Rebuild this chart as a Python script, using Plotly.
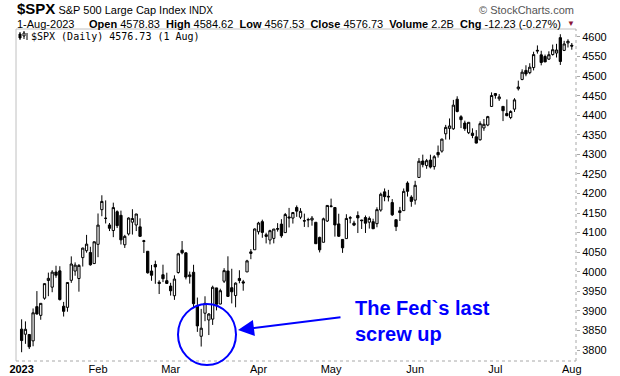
import plotly.graph_objects as go

# ---------------- data ----------------
dates = [
    "2023-01-03","2023-01-04","2023-01-05","2023-01-06","2023-01-09","2023-01-10","2023-01-11","2023-01-12","2023-01-13",
    "2023-01-17","2023-01-18","2023-01-19","2023-01-20","2023-01-23","2023-01-24","2023-01-25","2023-01-26","2023-01-27",
    "2023-01-30","2023-01-31",
    "2023-02-01","2023-02-02","2023-02-03","2023-02-06","2023-02-07","2023-02-08","2023-02-09","2023-02-10","2023-02-13",
    "2023-02-14","2023-02-15","2023-02-16","2023-02-17","2023-02-21","2023-02-22","2023-02-23","2023-02-24","2023-02-27",
    "2023-02-28",
    "2023-03-01","2023-03-02","2023-03-03","2023-03-06","2023-03-07","2023-03-08","2023-03-09","2023-03-10","2023-03-13",
    "2023-03-14","2023-03-15","2023-03-16","2023-03-17","2023-03-20","2023-03-21","2023-03-22","2023-03-23","2023-03-24",
    "2023-03-27","2023-03-28","2023-03-29","2023-03-30","2023-03-31",
    "2023-04-03","2023-04-04","2023-04-05","2023-04-06","2023-04-10","2023-04-11","2023-04-12","2023-04-13","2023-04-14",
    "2023-04-17","2023-04-18","2023-04-19","2023-04-20","2023-04-21","2023-04-24","2023-04-25","2023-04-26","2023-04-27",
    "2023-04-28",
    "2023-05-01","2023-05-02","2023-05-03","2023-05-04","2023-05-05","2023-05-08","2023-05-09","2023-05-10","2023-05-11",
    "2023-05-12","2023-05-15","2023-05-16","2023-05-17","2023-05-18","2023-05-19","2023-05-22","2023-05-23","2023-05-24",
    "2023-05-25","2023-05-26","2023-05-30","2023-05-31",
    "2023-06-01","2023-06-02","2023-06-05","2023-06-06","2023-06-07","2023-06-08","2023-06-09","2023-06-12","2023-06-13",
    "2023-06-14","2023-06-15","2023-06-16","2023-06-20","2023-06-21","2023-06-22","2023-06-23","2023-06-26","2023-06-27",
    "2023-06-28","2023-06-29","2023-06-30",
    "2023-07-03","2023-07-05","2023-07-06","2023-07-07","2023-07-10","2023-07-11","2023-07-12","2023-07-13","2023-07-14",
    "2023-07-17","2023-07-18","2023-07-19","2023-07-20","2023-07-21","2023-07-24","2023-07-25","2023-07-26","2023-07-27",
    "2023-07-28","2023-07-31",
    "2023-08-01",
]

opens = [
    3853.29,3840.36,3839.74,3823.37,3910.82,3888.57,3932.35,3977.57,3960.60,3999.28,4002.25,3911.84,3909.04,3978.14,4001.74,
    3982.71,4036.08,4053.72,4049.27,4020.85,
    4070.07,4158.68,4136.69,4119.57,4105.35,4153.47,4144.25,4068.92,4096.62,4126.70,4119.50,4114.75,4077.39,4052.35,4001.83,
    4018.60,3973.24,3992.36,3977.19,
    3963.34,3938.68,3998.02,4055.15,4048.26,3987.55,3998.66,3912.77,3835.12,3894.01,3876.74,3878.93,3958.69,3917.47,3975.89,
    4002.04,3959.21,3939.21,3982.93,3974.13,3999.53,4046.74,4056.18,
    4102.20,4128.03,4094.50,4081.15,4085.20,4110.29,4121.72,4100.04,4140.11,4137.17,4164.26,4139.33,4130.48,4132.14,4132.07,
    4126.43,4087.78,4075.29,4129.63,
    4166.79,4164.10,4122.25,4082.61,4084.73,4136.98,4124.25,4143.74,4132.24,4138.54,4126.65,4127.95,4122.85,4157.68,4204.15,
    4190.78,4176.80,4132.96,4155.71,4156.16,4226.71,4190.74,
    4183.03,4241.01,4282.99,4271.34,4285.47,4268.69,4304.88,4308.32,4352.61,4366.29,4365.33,4440.95,4396.11,4380.01,4355.40,
    4354.17,4344.84,4337.36,4367.48,4374.94,4422.44,
    4450.48,4442.04,4422.62,4404.54,4394.23,4415.55,4467.69,4491.50,4514.61,4508.86,4521.78,4563.87,4554.38,4550.16,4543.39,
    4555.19,4558.96,4598.26,4565.75,4584.82,
    4578.83,
]

highs = [
    3878.46,3873.16,3839.74,3906.19,3950.57,3919.83,3970.07,3997.76,4003.95,4015.39,4014.16,3922.94,3972.96,4039.31,4023.92,
    4019.55,4061.57,4094.21,4063.85,4077.16,
    4148.95,4195.44,4182.36,4124.63,4176.54,4156.85,4156.23,4094.36,4138.90,4159.77,4148.11,4136.54,4081.51,4052.35,4017.37,
    4028.30,3978.25,4018.05,3997.50,
    3971.73,3990.84,4048.29,4078.49,4050.00,4000.41,4017.81,3934.05,3905.05,3937.29,3894.26,3964.46,3958.91,3956.62,4009.08,
    4039.49,4007.66,3972.74,4003.83,3979.20,4030.59,4057.85,4110.75,
    4127.66,4133.13,4099.69,4107.32,4109.50,4124.26,4134.37,4150.26,4163.19,4151.72,4169.48,4162.57,4148.57,4138.02,4142.41,
    4126.43,4089.67,4138.24,4170.06,
    4186.92,4164.10,4148.30,4082.61,4147.02,4142.30,4130.35,4154.28,4132.80,4143.74,4141.25,4135.54,4164.67,4202.20,4212.91,
    4209.22,4185.68,4132.96,4165.74,4212.87,4231.10,4195.44,
    4232.43,4290.67,4299.28,4288.33,4299.19,4298.01,4322.62,4340.13,4375.37,4391.82,4439.20,4448.47,4400.15,4386.22,4382.25,
    4366.55,4362.06,4384.42,4390.35,4398.39,4458.48,
    4456.46,4454.06,4422.62,4440.39,4412.60,4443.64,4488.34,4517.38,4527.76,4532.85,4562.30,4578.43,4564.74,4555.00,4563.41,
    4580.62,4582.47,4607.07,4590.16,4594.22,
    4584.62,
]

lows = [
    3794.33,3815.77,3802.42,3809.56,3890.42,3877.29,3928.54,3937.56,3947.67,3984.57,3926.59,3885.54,3897.86,3971.64,3989.79,
    3949.06,4013.29,4048.70,4015.55,4020.44,
    4037.20,4141.88,4123.36,4103.98,4088.39,4111.67,4069.67,4060.79,4092.67,4095.01,4103.98,4089.49,4047.95,3995.19,3976.90,
    3969.19,3943.08,3973.55,3968.98,
    3939.05,3928.16,3995.17,4044.61,3980.31,3969.76,3908.70,3846.32,3808.86,3873.63,3838.24,3864.11,3901.27,3916.89,3971.19,
    3936.17,3919.05,3909.16,3970.49,3951.53,3999.53,4032.10,4056.18,
    4095.31,4086.87,4072.56,4069.84,4072.55,4102.61,4086.94,4099.40,4113.20,4123.18,4140.36,4134.49,4114.57,4113.86,4117.77,
    4071.38,4049.35,4075.29,4127.18,
    4164.12,4089.72,4088.86,4048.28,4084.73,4123.81,4116.65,4098.92,4109.29,4099.12,4110.27,4109.86,4113.62,4153.50,4180.20,
    4179.68,4142.54,4103.98,4129.73,4156.16,4192.18,4166.15,
    4171.64,4241.01,4266.82,4263.09,4263.96,4261.07,4291.70,4304.37,4337.85,4337.85,4362.60,4407.44,4367.19,4360.14,4351.82,
    4341.34,4328.08,4335.00,4360.22,4371.97,4422.44,
    4442.29,4436.61,4385.05,4397.40,4389.92,4408.46,4463.23,4489.36,4499.56,4504.90,4514.59,4557.48,4527.56,4535.79,4541.29,
    4552.42,4547.58,4528.56,4564.01,4573.14,
    4567.53,
]

closes = [
    3824.14,3852.97,3808.10,3895.08,3892.09,3919.25,3969.61,3983.17,3999.09,3990.97,3928.86,3898.85,3972.61,4019.81,4016.95,
    4016.22,4060.43,4070.56,4017.77,4076.60,
    4119.21,4179.76,4136.48,4111.08,4164.00,4117.86,4081.50,4090.46,4137.29,4136.13,4147.60,4090.41,4079.09,3997.34,3991.05,
    4012.32,3970.04,3982.24,3970.15,
    3951.39,3981.35,4045.64,4048.42,3986.37,3992.01,3918.32,3861.59,3855.76,3919.29,3891.93,3960.28,3916.64,3951.57,4002.87,
    3936.97,3948.72,3970.99,3977.53,3971.27,4027.81,4050.83,4109.31,
    4124.51,4100.60,4090.38,4105.02,4109.11,4108.94,4091.95,4146.22,4137.64,4151.32,4154.87,4154.52,4129.79,4133.52,4137.04,
    4071.63,4055.99,4135.35,4169.48,
    4167.87,4119.58,4090.75,4061.22,4136.25,4138.12,4119.17,4137.64,4130.62,4124.08,4136.28,4109.90,4158.77,4198.05,4191.98,
    4192.63,4145.58,4115.24,4151.28,4205.45,4205.52,4179.83,
    4221.02,4282.37,4273.79,4283.85,4267.52,4293.93,4298.86,4338.93,4369.01,4372.59,4425.84,4409.59,4388.71,4365.69,4381.89,
    4348.33,4328.82,4378.41,4376.86,4396.44,4450.38,
    4455.59,4446.82,4411.59,4398.95,4409.53,4439.26,4472.16,4510.04,4505.42,4522.79,4554.98,4565.72,4534.87,4536.34,4554.64,
    4567.46,4566.75,4537.41,4582.23,4588.96,
    4576.73,
]

month_ticks = ["2023-01-03","2023-02-01","2023-03-01","2023-04-03","2023-05-01","2023-06-01","2023-07-03","2023-08-01"]
month_labels = ["<b>2023</b>","Feb","Mar","Apr","May","Jun","Jul","Aug"]
price_ticks = list(range(3800, 4601, 50))

header_title = ("<b>$SPX</b><span style='font-size:11px'> S&P 500 Large Cap Index </span>"
                "<span style='font-size:10px'>INDX</span>")
header_quote = ("<b>Open</b> 4578.83  <b>High</b> 4584.62  <b>Low</b> 4567.53  <b>Close</b> 4576.73  "
                "<b>Volume</b> 2.2B  <b>Chg</b> -12.23 (-0.27%) ")
legend_text = "$SPX (Daily) 4576.73 (1 Aug)"
note_text = "<b>The Fed`s last</b><br><b>screw up</b>"

# ---------------- layout helpers ----------------
W, H = 620, 376
L, R, T, B = 16, 44, 29, 15
PW, PH = W - L - R, H - T - B


def px(x):
    return (x - L) / PW


def py(y):
    return (H - B - y) / PH


ARIAL = "Arial, Liberation Sans, sans-serif"
BLUE = "#0000ff"

fig = go.Figure()
fig.add_trace(go.Candlestick(
    x=dates, open=opens, high=highs, low=lows, close=closes,
    increasing=dict(line=dict(color="black", width=1), fillcolor="white"),
    decreasing=dict(line=dict(color="black", width=1), fillcolor="black"),
    whiskerwidth=0, showlegend=False, hoverinfo="x+y",
))

annotations = [
    dict(x=px(15), y=py(9), text=header_title, font=dict(family=ARIAL, size=15, color="black"),
         xanchor="left", yanchor="middle"),
    dict(x=px(576), y=py(10), text="© StockCharts.com", font=dict(family=ARIAL, size=11, color="#555555"),
         xanchor="right", yanchor="middle"),
    dict(x=px(15), y=py(23.5), text="1-Aug-2023", font=dict(family=ARIAL, size=11, color="black"),
         xanchor="left", yanchor="middle"),
    dict(x=px(566), y=py(23.5), text=header_quote, font=dict(family=ARIAL, size=11, color="black"),
         xanchor="right", yanchor="middle"),
    dict(x=px(577), y=py(23), text="▼", font=dict(family=ARIAL, size=8, color="#8b1538"),
         xanchor="right", yanchor="middle"),
    dict(x=px(29), y=py(36), text=legend_text,
         font=dict(family="DejaVu Sans Mono, monospace", size=10, color="black"),
         xanchor="left", yanchor="middle"),
    # arrow
    dict(x=px(238), y=py(330), ax=104, ay=-13, text="", showarrow=True,
         arrowhead=2, arrowsize=1.6, arrowwidth=2, arrowcolor=BLUE, standoff=0),
    # note text
    dict(x=px(353), y=py(321), text=note_text, align="left",
         font=dict(family=ARIAL, size=20, color=BLUE), xanchor="left", yanchor="middle"),
]
for a in annotations:
    a.setdefault("xref", "paper")
    a.setdefault("yref", "paper")
    a.setdefault("showarrow", False)

shapes = [
    # plot frame
    dict(type="line", x0=0, x1=1, y0=1, y1=1, line=dict(color="#c0c0c0", width=1)),
    dict(type="line", x0=0, x1=0, y0=0, y1=1, line=dict(color="#c0c0c0", width=1)),
    dict(type="line", x0=0, x1=1, y0=0, y1=0, line=dict(color="#a8a8a8", width=1, dash="dot")),
    dict(type="line", x0=1, x1=1, y0=0, y1=1, line=dict(color="#a8a8a8", width=1, dash="dot")),
    # legend icon (tiny candles)
    dict(type="line", x0=px(20), x1=px(20), y0=py(32), y1=py(40), line=dict(color="black", width=1)),
    dict(type="rect", x0=px(19), x1=px(21), y0=py(34), y1=py(38), line=dict(color="black", width=1), fillcolor="black"),
    dict(type="line", x0=px(24), x1=px(24), y0=py(31), y1=py(39), line=dict(color="black", width=1)),
    dict(type="rect", x0=px(23), x1=px(25), y0=py(33), y1=py(36), line=dict(color="black", width=1), fillcolor="white"),
    dict(type="line", x0=px(27), x1=px(27), y0=py(33), y1=py(40), line=dict(color="black", width=1)),
    # blue circle
    dict(type="circle", x0=px(178), x1=px(236), y0=py(365), y1=py(304), line=dict(color=BLUE, width=2)),
]
for s in shapes:
    s["xref"] = "paper"
    s["yref"] = "paper"

fig.update_layout(
    width=W, height=H,
    margin=dict(l=L, r=R, t=T, b=B, pad=0, autoexpand=False),
    paper_bgcolor="white", plot_bgcolor="white",
    showlegend=False,
    boxgap=0.15,
    annotations=annotations,
    shapes=shapes,
    xaxis=dict(
        type="category", range=[-1.47, 145.1], rangeslider=dict(visible=False),
        tickmode="array", tickvals=month_ticks, ticktext=month_labels,
        showgrid=False, zeroline=False, showline=False, ticks="", automargin=False,
        tickfont=dict(family=ARIAL, size=11, color="black"), tickangle=0,
    ),
    yaxis=dict(
        side="right", range=[3771.9, 4620.4], tickmode="array", tickvals=price_ticks,
        showgrid=False, zeroline=False, showline=False, automargin=False,
        ticks="outside", ticklen=3, tickcolor="#a8a8a8",
        tickfont=dict(family=ARIAL, size=11, color="black"),
    ),
)

fig.write_html(
    "out.html",
    config={"displayModeBar": False},
    post_script="document.body.style.margin='0px';document.body.style.padding='0px';"
                "document.documentElement.style.overflow='hidden';",
)
